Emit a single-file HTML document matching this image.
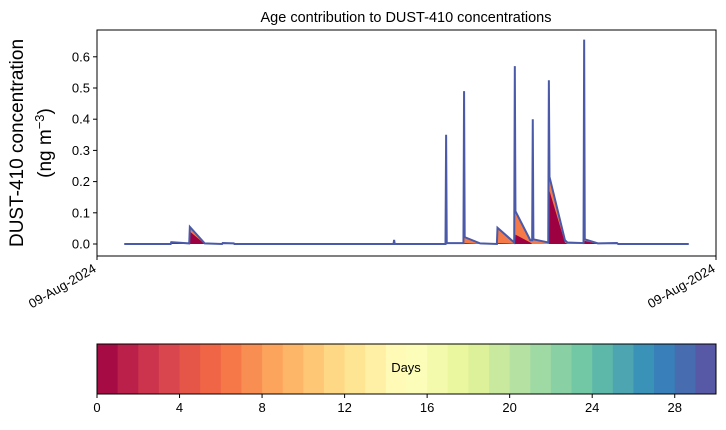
<!DOCTYPE html>
<html><head><meta charset="utf-8"><style>
body{margin:0;background:#fff;}
svg text{font-family:"Liberation Sans","DejaVu Sans",sans-serif;}
</style></head><body>
<svg id="c" width="726" height="425" xmlns="http://www.w3.org/2000/svg"></svg>
<script>
const times=[4.4,11.9,12.0,13.4,14.9,15.0,17.4,20.2,20.3,22.1,22.2,47.9,48.0,48.1,56.3,56.4,56.5,59.2,59.3,59.4,61.9,64.6,64.7,67.4,67.5,67.6,70.0,70.3,70.4,70.5,72.9,73.0,73.1,75.6,76.0,78.6,78.7,78.8,80.9,84.0,84.2,95.6];
const totals=[0,0,0.006,0.004,0.002,0.055,0.002,0,0.003,0.002,0,0,0.013,0,0,0.35,0.003,0.003,0.49,0.022,0.002,0,0.052,0.005,0.57,0.105,0.012,0.012,0.40,0.015,0.005,0.525,0.215,0.012,0.005,0.003,0.655,0.015,0.002,0.003,0,0];
const fresh=[0,0,0.003,0.002,0,0.04,0,0,0,0,0,0,0,0,0,0,0,0,0,0.003,0,0,0.003,0.001,0,0.03,0.005,0,0,0,0,0,0.17,0.005,0,0,0,0.01,0,0,0,0];
const yTicks=[0,0.1,0.2,0.3,0.4,0.5,0.6];
const yTickLabels=["0.0","0.1","0.2","0.3","0.4","0.5","0.6"];
const cbTicks=[0,4,8,12,16,20,24,28];
const nDays=30;
const spectral=["#9e0142","#d53e4f","#f46d43","#fdae61","#fee08b","#ffffbf","#e6f598","#abdda4","#66c2a5","#3288bd","#5e4fa2"];

const X0=97,X1=716,Y0=30,Y1=256;
const xs=t=>X0+(t/100)*(X1-X0);
const ys=v=>244-v*312;
const svg=document.getElementById('c');
const NS="http://www.w3.org/2000/svg";
function mk(tag,attrs,parent){const e=document.createElementNS(NS,tag);for(const k in attrs)e.setAttribute(k,attrs[k]);(parent||svg).appendChild(e);return e;}
function hex(h){return [1,3,5].map(i=>parseInt(h.substr(i,2),16));}
function cmap(f){const p=f*(spectral.length-1);const i=Math.min(Math.floor(p),spectral.length-2);const r=p-i;const a=hex(spectral[i]),b=hex(spectral[i+1]);return "rgb("+a.map((v,k)=>Math.round(v+(b[k]-v)*r)).join(",")+")";}

let t=mk('text',{x:406,y:22,'font-size':14.5,'text-anchor':'middle'});

t.textContent="Age contribution to DUST-410 concentrations";

let d="M"+xs(times[0])+","+ys(0);
times.forEach((tt,i)=>d+=" L"+xs(tt)+","+ys(totals[i]));
d+=" L"+xs(times[times.length-1])+","+ys(0)+"Z";
let a=mk('path',{d:d,fill:"#f47a4a"});

let d2="M"+xs(times[0])+","+ys(0);
times.forEach((tt,i)=>d2+=" L"+xs(tt)+","+ys(fresh[i]));
d2+=" L"+xs(times[times.length-1])+","+ys(0)+"Z";
let a2=mk('path',{d:d2,fill:"#9e0142"});

let l=mk('polyline',{points:times.map((tt,i)=>xs(tt)+","+ys(totals[i])).join(" "),fill:"none",stroke:"#4a5aa8","stroke-width":2,"stroke-linejoin":"miter"});


let fr=mk('rect',{x:X0,y:Y0,width:X1-X0,height:Y1-Y0,fill:"none",stroke:"#000","stroke-width":1});


yTicks.forEach((v,i)=>{
  mk('line',{x1:X0-4,x2:X0,y1:ys(v),y2:ys(v),stroke:"#000"});
  let tx=mk('text',{x:X0-7,y:ys(v)+4.5,'font-size':13,'text-anchor':'end'});
  
  tx.textContent=yTickLabels[i];
});
[X0,X1].forEach(x=>{
  mk('line',{x1:x,x2:x,y1:Y1,y2:Y1+4,stroke:"#000"});
  let tx=mk('text',{x:x,y:Y1+15,'font-size':13,'text-anchor':'end',transform:`rotate(-30 ${x} ${Y1+15})`});
  
  tx.textContent="09-Aug-2024";
});
let yl=mk('text',{x:23,y:143,'font-size':19,'text-anchor':'middle',transform:'rotate(-90 23 143)'});

yl.textContent="DUST-410 concentration";
let yl2=mk('text',{x:51,y:143,'font-size':19,'text-anchor':'middle',transform:'rotate(-90 51 143)'});

yl2.innerHTML='(ng m<tspan dy="-7" font-size="13">−3</tspan><tspan dy="7">)</tspan>';

const CB0=97,CB1=716,CBY=344,CBH=50,w=(CB1-CB0)/nDays;
for(let i=0;i<nDays;i++){
  let r=mk('rect',{x:CB0+i*w,y:CBY,width:w+0.5,height:CBH,fill:cmap((i+0.5)/nDays)});
  
}
mk('rect',{x:CB0,y:CBY,width:CB1-CB0,height:CBH,fill:"none",stroke:"#000"});
cbTicks.forEach(v=>{
  const x=CB0+v*w;
  mk('line',{x1:x,x2:x,y1:CBY+CBH,y2:CBY+CBH+4,stroke:"#000"});
  let tx=mk('text',{x:x,y:CBY+CBH+18,'font-size':13,'text-anchor':'middle'});
  
  tx.textContent=v;
});
let cl=mk('text',{x:406,y:372,'font-size':13,'text-anchor':'middle'});

cl.textContent="Days";
</script>
</body></html>
